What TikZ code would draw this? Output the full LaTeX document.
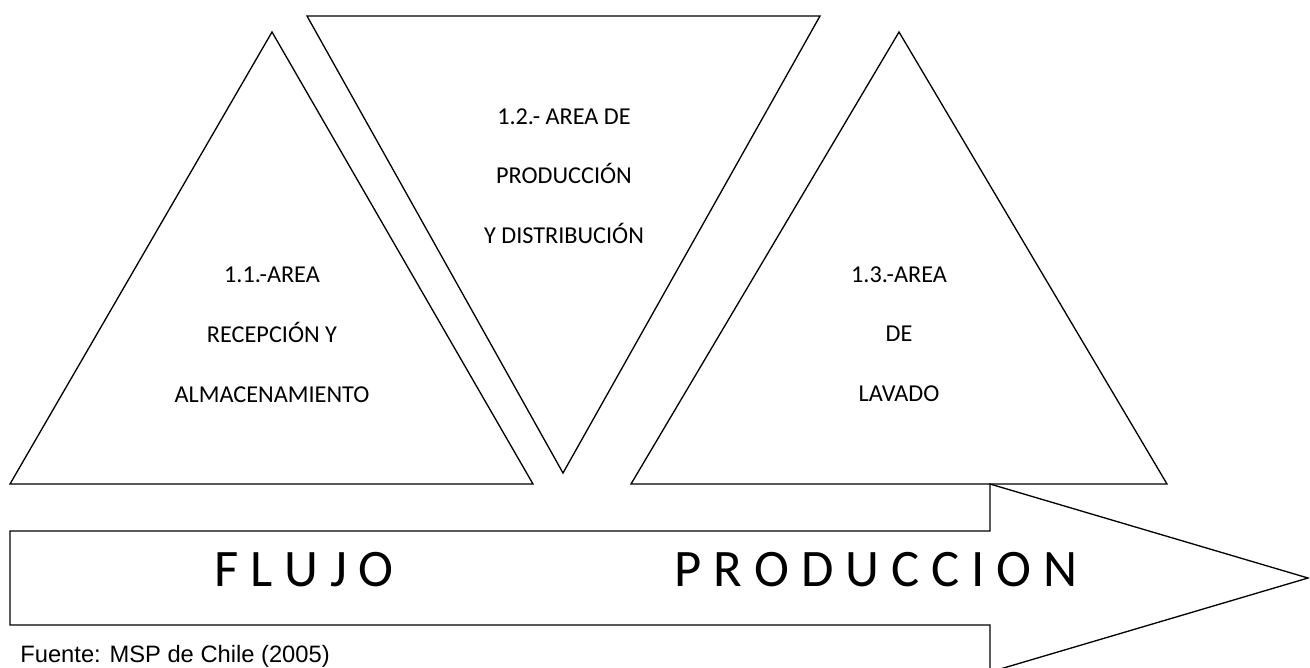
\documentclass[tikz,border=0pt]{standalone}
\usepackage{fontspec}
\setmainfont{Carlito}
\newfontfamily\fuentefont{Liberation Sans}
\usepackage{tikz}
\tikzstyle{outline} = [draw=black, line width=0.75pt, line join=miter]
\tikzstyle{area} = [align=center, inner sep=0pt, font=\fontsize{13.8}{34}\selectfont]
\tikzstyle{flow} = [inner sep=0pt, font=\fontsize{30}{32}\selectfont]
\tikzstyle{source} = [inner sep=0pt, anchor=base west, font=\fuentefont\fontsize{13.5}{15}\selectfont]

\begin{document}
\begin{tikzpicture}[x=0.02cm, y=-0.02cm]
\clip (0,0) rectangle (1310,667);
% areas
\draw [outline] (10,484) -- (272,32) -- (533,484) -- cycle;
\draw [outline] (307,16) -- (820,16) -- (563,473) -- cycle;
\draw [outline] (631,484) -- (899,32) -- (1167,484) -- cycle;
\node (recepcion) [area] at (272,335) {1.1.-AREA\\RECEPCIÓN Y\\ALMACENAMIENTO};
\node (produccion) [area] at (564,176) {1.2.- AREA DE\\PRODUCCIÓN\\Y DISTRIBUCIÓN};
\node (lavado) [area] at (899,334) {1.3.-AREA\\DE\\LAVADO};
% flow arrow
\draw [outline] (10,531) -- (990,531) -- (990,484) -- (1308,578) -- (990,672) -- (990,625) -- (10,625) -- cycle;
\node (flujo) [flow] at (304,570) {F L U J O};
\node (flujoprod) [flow] at (876,570) {P R O D U C C I O N};
\node (fuente) [source] at (20,662) {Fuente: MSP de Chile (2005)};
\end{tikzpicture}
\end{document}
